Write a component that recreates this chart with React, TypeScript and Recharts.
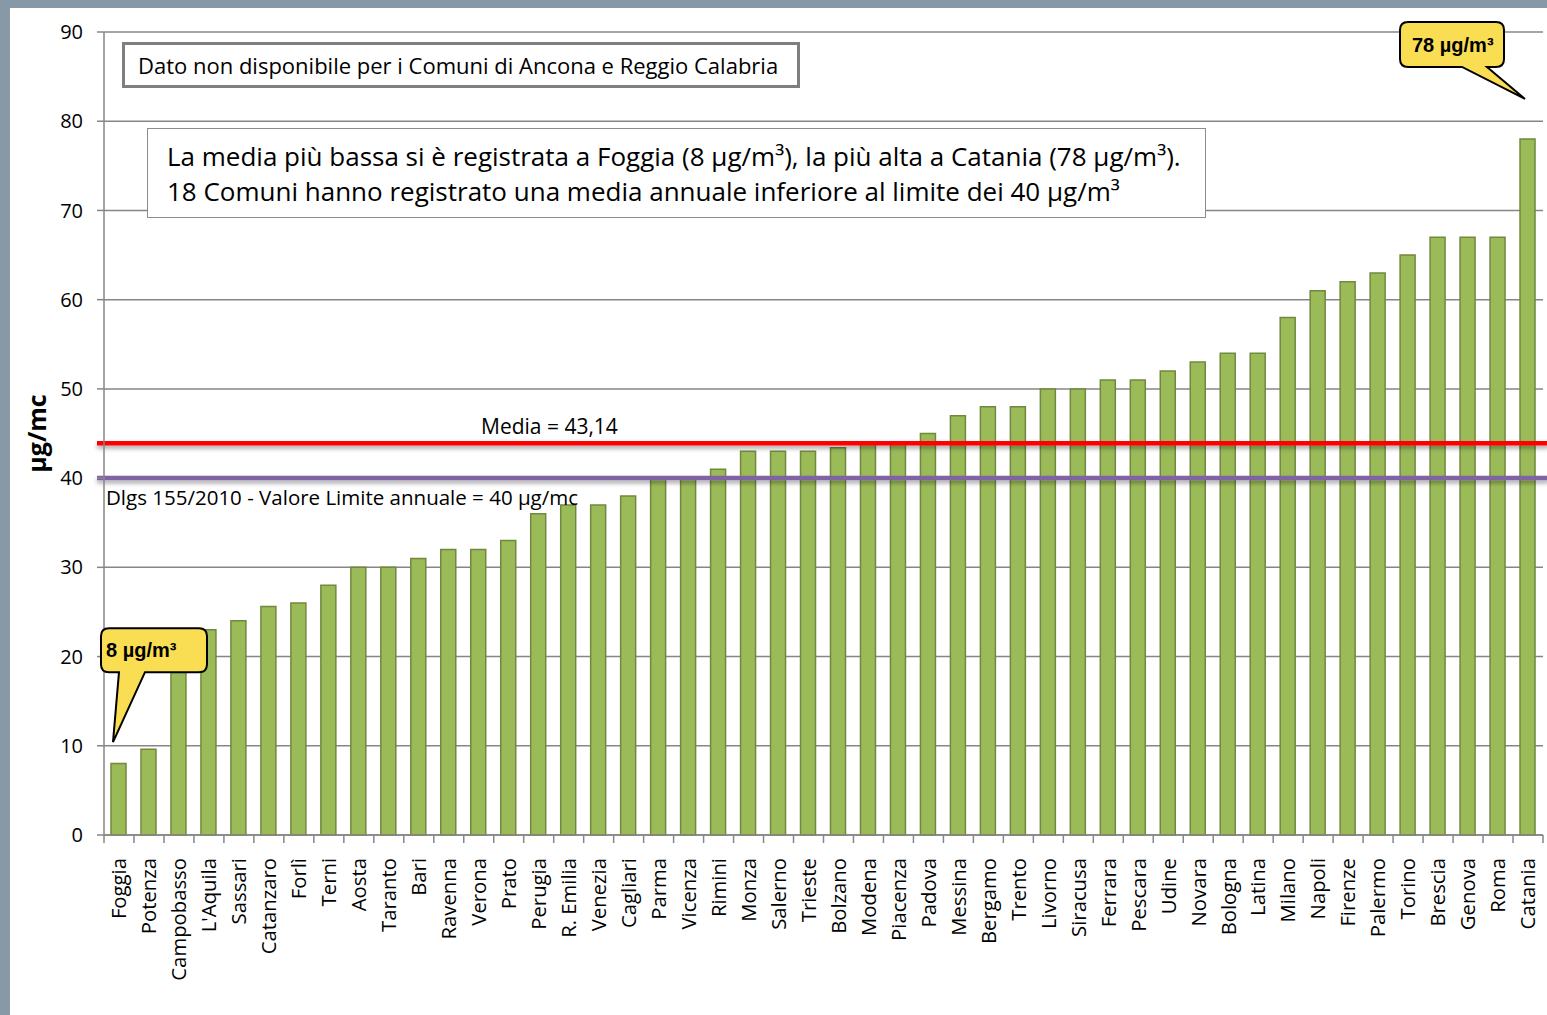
import React from 'react';
import {
  BarChart,
  Bar,
  XAxis,
  YAxis,
  CartesianGrid,
  ReferenceLine,
  ReferenceDot,
} from 'recharts';

// Comuni in ordine crescente di media annuale
const cities = [
  'Foggia', 'Potenza', 'Campobasso', "L'Aquila", 'Sassari', 'Catanzaro', 'Forlì', 'Terni',
  'Aosta', 'Taranto', 'Bari', 'Ravenna', 'Verona', 'Prato', 'Perugia', 'R. Emilia',
  'Venezia', 'Cagliari', 'Parma', 'Vicenza', 'Rimini', 'Monza', 'Salerno', 'Trieste',
  'Bolzano', 'Modena', 'Piacenza', 'Padova', 'Messina', 'Bergamo', 'Trento', 'Livorno',
  'Siracusa', 'Ferrara', 'Pescara', 'Udine', 'Novara', 'Bologna', 'Latina', 'Milano',
  'Napoli', 'Firenze', 'Palermo', 'Torino', 'Brescia', 'Genova', 'Roma', 'Catania',
];

const values = [
  8, 9.6, 20, 23, 24, 25.6, 26, 28,
  30, 30, 31, 32, 32, 33, 36, 37,
  37, 38, 40, 40, 41, 43, 43, 43,
  43.4, 44, 44, 45, 47, 48, 48, 50,
  50, 51, 51, 52, 53, 54, 54, 58,
  61, 62, 63, 65, 67, 67, 67, 78,
];

const yTicks = [0, 10, 20, 30, 40, 50, 60, 70, 80, 90];

const mediaLine = 43.9; // drawn position of the mean line
const mediaLabel = 'Media  = 43,14';
const limitLine = 40;
const limitLabel = 'Dlgs 155/2010  - Valore Limite annuale = 40 µg/mc';

const data = cities.map((city, i) => ({ city, value: values[i] }));

const W = 1547;
const H = 1015;
const MARGIN = { top: 32, right: 4, left: 0, bottom: 0 };
const YAXIS_W = 104;
const PLOT_W = W - MARGIN.left - MARGIN.right - YAXIS_W;
const STEP = PLOT_W / cities.length;
const TICK_OFFSET = 23;

const GRID = '#868686';
const LABEL_FONT = '"Open Sans", Lato, sans-serif';

function CityTick(props: any) {
  const { x, y, payload, index } = props;
  const axisY = y - TICK_OFFSET;
  return (
    <g>
      <line x1={x - STEP / 2} x2={x - STEP / 2} y1={axisY} y2={axisY + 8} stroke={GRID} strokeWidth={1.5} />
      {index === cities.length - 1 && (
        <line x1={x + STEP / 2} x2={x + STEP / 2} y1={axisY} y2={axisY + 8} stroke={GRID} strokeWidth={1.5} />
      )}
      <text
        x={x}
        y={y}
        transform={`rotate(-90, ${x}, ${y})`}
        textAnchor="end"
        dy="0.36em"
        fontSize={20.3}
        fontFamily={LABEL_FONT}
        fill="#000"
      >
        {payload.value}
      </text>
    </g>
  );
}

// the drawn lines run a little past the plot on both sides
function WideLine(props: any) {
  const { x1, x2, y1, y2, stroke } = props;
  return (
    <line x1={x1 - 7} x2={x2 + 6} y1={y1} y2={y2} stroke={stroke} strokeWidth={4.5} filter="url(#lineShadow)" />
  );
}

function calloutPath(x0: number, y0: number, x1: number, y1: number, b1: number, b2: number, tx: number, ty: number) {
  const r = 8;
  return `M ${x0 + r} ${y0} H ${x1 - r} Q ${x1} ${y0} ${x1} ${y0 + r} V ${y1 - r} Q ${x1} ${y1} ${x1 - r} ${y1}
    H ${b2} L ${tx} ${ty} L ${b1} ${y1} H ${x0 + r} Q ${x0} ${y1} ${x0} ${y1 - r} V ${y0 + r} Q ${x0} ${y0} ${x0 + r} ${y0} Z`;
}

function LowCallout(props: any) {
  const { cx, cy } = props;
  const tx = cx - 6;
  const ty = cy;
  const x0 = tx - 12;
  const y0 = ty - 114;
  return (
    <g>
      <path d={calloutPath(x0, y0, x0 + 106, y0 + 44, tx + 6, tx + 32, tx, ty)} fill="#f9dd52" stroke="#000" strokeWidth={2} />
      <text x={x0 + 5} y={y0 + 29} fontSize={20} fontWeight="bold" fontFamily='"Liberation Sans", Arial, sans-serif'>
        8 µg/m³
      </text>
    </g>
  );
}

function HighCallout(props: any) {
  const { cx, cy } = props;
  const tx = cx - 3;
  const ty = cy;
  const x0 = tx - 125;
  const y0 = ty - 77;
  return (
    <g>
      <path d={calloutPath(x0, y0, x0 + 104, y0 + 45, x0 + 62, x0 + 87, tx, ty)} fill="#f9dd52" stroke="#000" strokeWidth={2} />
      <text x={x0 + 12} y={y0 + 30} fontSize={20} fontWeight="bold" fontFamily='"Liberation Sans", Arial, sans-serif'>
        78 µg/m³
      </text>
    </g>
  );
}

export default function App() {
  return (
    <div style={{ position: 'absolute', left: 0, top: 0, width: W, height: H, background: '#8799a6', overflow: 'hidden' }}>
      <svg width={0} height={0} style={{ position: 'absolute' }}>
        <defs>
          <filter id="lineShadow" filterUnits="userSpaceOnUse" x="0" y="0" width={W} height={H}>
            <feDropShadow dx="0" dy="3" stdDeviation="2" floodColor="#000" floodOpacity="0.35" />
          </filter>
        </defs>
      </svg>
      <div style={{ position: 'absolute', left: 10, top: 8, right: 0, bottom: 0, background: '#fff' }} />
      <div style={{ position: 'absolute', left: 0, top: 0 }}>
        <BarChart width={W} height={H} data={data} margin={MARGIN}>
          <CartesianGrid vertical={false} stroke={GRID} strokeWidth={1.5} />
          <XAxis
            dataKey="city"
            interval={0}
            height={H - 835}
            tickLine={false}
            tickSize={0}
            tickMargin={TICK_OFFSET}
            axisLine={{ stroke: GRID, strokeWidth: 1.5 }}
            tick={<CityTick />}
          />
          <YAxis
            width={YAXIS_W}
            domain={[0, 90]}
            ticks={yTicks}
            interval={0}
            tickSize={7}
            tickMargin={14}
            tickLine={{ stroke: GRID, strokeWidth: 1.5 }}
            axisLine={{ stroke: GRID, strokeWidth: 1.5 }}
            tick={{ fill: '#000', fontSize: 20, fontFamily: LABEL_FONT }}
            label={(p: any) => {
              const vb = p.viewBox;
              const cx = vb.x + 37;
              const cy = vb.y + vb.height / 2;
              return (
                <text x={cx} y={cy} transform={`rotate(-90, ${cx}, ${cy})`} textAnchor="middle" dy="0.36em"
                  fontSize={25} fontWeight="bold" fontFamily={LABEL_FONT}>
                  µg/mc
                </text>
              );
            }}
          />
          <Bar dataKey="value" fill="#9bbb59" stroke="#71893f" strokeWidth={1.5} barSize={15} isAnimationActive={false} />
          <ReferenceLine
            y={limitLine}
            stroke="#8064a2"
            shape={(p: any) => <WideLine {...p} stroke="#8064a2" />}
            label={(p: any) => (
              <text x={p.viewBox.x + 2} y={p.viewBox.y + 27} fontSize={20.5} fontFamily={LABEL_FONT} fill="#000">
                {limitLabel}
              </text>
            )}
          />
          <ReferenceLine
            y={mediaLine}
            stroke="#ff0000"
            shape={(p: any) => <WideLine {...p} stroke="#ff0000" />}
            label={(p: any) => (
              <text x={p.viewBox.x + 377} y={p.viewBox.y - 9} fontSize={21} fontFamily={LABEL_FONT} fill="#000">
                {mediaLabel}
              </text>
            )}
          />
          <ReferenceDot x="Foggia" y={10.4} r={0} shape={<LowCallout />} />
          <ReferenceDot x="Catania" y={82.5} r={0} shape={<HighCallout />} />
        </BarChart>
      </div>
      <div
        style={{
          position: 'absolute', left: 122, top: 42, width: 678, height: 46, boxSizing: 'border-box',
          border: '3.5px solid #7f7f7f', background: '#fff', fontFamily: LABEL_FONT, fontSize: 22,
          display: 'flex', alignItems: 'center', paddingLeft: 13, whiteSpace: 'nowrap',
        }}
      >
        Dato non disponibile per i Comuni di Ancona e Reggio Calabria
      </div>
      <div
        style={{
          position: 'absolute', left: 147, top: 128, width: 1059, height: 90, boxSizing: 'border-box',
          border: '1.5px solid #8c8c8c', background: '#fff', fontFamily: LABEL_FONT, fontSize: 26,
          paddingLeft: 19, paddingTop: 10, lineHeight: '35px', whiteSpace: 'nowrap',
        }}
      >
        <div>La media più bassa si è registrata a Foggia (8 µg/m³), la più alta a Catania (78 µg/m³).</div>
        <div>18 Comuni hanno registrato una media annuale inferiore al limite dei 40 µg/m³</div>
      </div>
    </div>
  );
}
